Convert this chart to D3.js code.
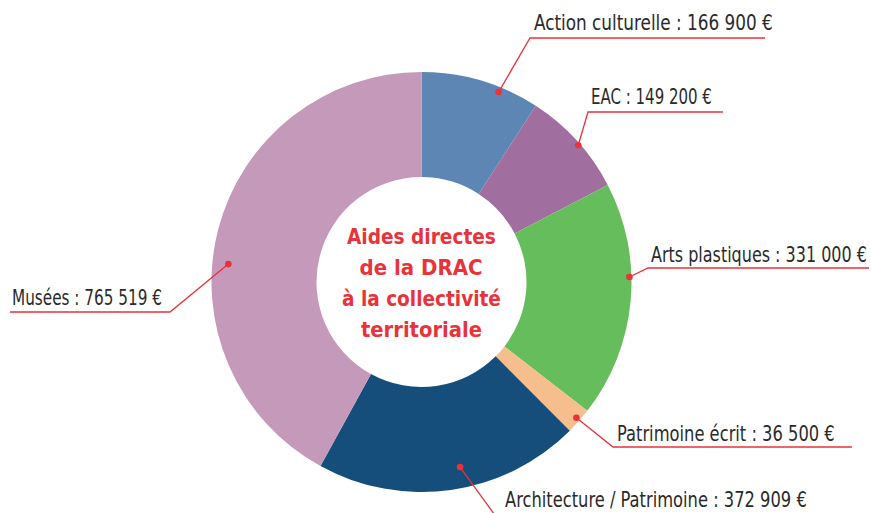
<!DOCTYPE html>
<html><head><meta charset="utf-8">
<script src="https://cdn.jsdelivr.net/npm/d3@7"></script>
<style>
html,body{margin:0;padding:0;background:#fff;}
svg{display:block;}
text{font-family:"DejaVu Sans Condensed","DejaVu Sans",sans-serif;}
</style></head>
<body>
<svg id="chart" width="871" height="513"></svg>
<script>
// ---- data ----
const categories = ["Action culturelle","EAC","Arts plastiques","Patrimoine écrit","Architecture / Patrimoine","Musées"];
const values = [166900, 149200, 331000, 36500, 372909, 765519];
const valueLabels = ["166 900 €","149 200 €","331 000 €","36 500 €","372 909 €","765 519 €"];
const colors = ["#5E86B4","#A06E9F","#66BD5B","#F5BE8C","#154E7B","#C599BA"];
const centerTitle = ["Aides directes","de la DRAC","à la collectivité","territoriale"];

// ---- layout (label leader geometry) ----
const cx = 421.5, cy = 282, outerR = 210, innerR = 105;
const dotFrac = [0.67, 0.54, 0.40, 0.47, 0.45, 0.44];
const dotR =   [205, 208, 208, 206, 189, 194];
const elbow = [[530,38],[588,112],[648,268],[613,447],[497,518],[170,312]];
const lineEnd = [765, 723, 869, 852, null, 10];
const textPos = [[534,30],[591,104],[651,262],[617,441],[505,507],[12,305]];
const textWidth = [239, 121, 216, 218, 302, 150];
const titleWidth = [149, 124, 159, 121];

const svg = d3.select("#chart");
const g = svg.append("g").attr("transform",`translate(${cx},${cy})`);

const pie = d3.pie().sort(null).value(d=>d);
const arcs = pie(values);
const arc = d3.arc().innerRadius(innerR).outerRadius(outerR);

g.selectAll("path.slice").data(arcs).enter().append("path")
  .attr("class","slice")
  .attr("d",arc)
  .attr("fill",(d,i)=>colors[i]);

const red = "#E8333A";

function fitText(parent, str, x, y, w, attrs, anchor){
  const t = parent.append("text").text(str).attr("x",0).attr("y",0);
  Object.entries(attrs).forEach(([k,v])=>t.attr(k,v));
  const nat = t.node().getComputedTextLength();
  const s = Math.min(1, w/nat);
  const x0 = anchor === "middle" ? x - w/2 : x;
  t.attr("transform",`translate(${x0},${y}) scale(${s},1)`);
  return t;
}

centerTitle.forEach((t,i)=>{
  fitText(g, t, 0, -38+i*31, titleWidth[i],
    {"fill":red,"font-weight":"bold","font-size":22}, "middle");
});

arcs.forEach((a,i)=>{
  const ang = a.startAngle + (a.endAngle-a.startAngle)*dotFrac[i];
  const px = cx + dotR[i]*Math.sin(ang);
  const py = cy - dotR[i]*Math.cos(ang);
  const pts = [[px,py], elbow[i]];
  if (lineEnd[i] !== null) pts.push([lineEnd[i], elbow[i][1]]);
  svg.append("path")
    .attr("d", d3.line()(pts))
    .attr("fill","none").attr("stroke",red).attr("stroke-width",1.3);
  svg.append("circle").attr("cx",px).attr("cy",py).attr("r",3.3).attr("fill",red);
  fitText(svg, categories[i] + " : " + valueLabels[i], textPos[i][0], textPos[i][1], textWidth[i],
    {"font-size":21.5,"fill":"#2b2b2b"}, "start");
});
</script>
</body></html>
